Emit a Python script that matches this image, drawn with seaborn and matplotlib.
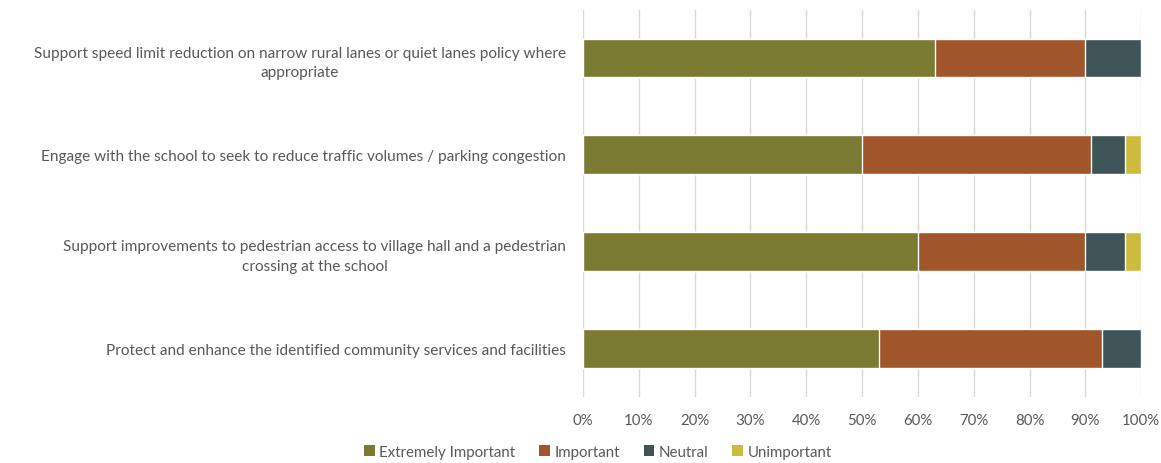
import matplotlib
matplotlib.use("Agg")
import matplotlib.pyplot as plt
import seaborn as sns
import pandas as pd
import numpy as np
from matplotlib.patches import Patch

categories = [
    "Support speed limit reduction on narrow rural lanes or quiet lanes policy where\nappropriate",
    "Engage with the school to seek to reduce traffic volumes / parking congestion",
    "Support improvements to pedestrian access to village hall and a pedestrian\ncrossing at the school",
    "Protect and enhance the identified community services and facilities",
]
series = ["Extremely Important", "Important", "Neutral", "Unimportant"]
extremely_important = [63, 50, 60, 53]
important = [27, 41, 30, 40]
neutral = [10, 6, 7, 7]
unimportant = [0, 3, 3, 0]
colors = ["#7a7a33", "#a0552a", "#3e5456", "#cdbb3f"]
xticks = [0, 10, 20, 30, 40, 50, 60, 70, 80, 90, 100]
xtick_labels = [f"{v}%" for v in xticks]

sns.set_theme(style="white")
plt.rcParams["font.family"] = ["Lato", "DejaVu Sans"]
text_color = "#595959"

df = pd.DataFrame({
    "category": categories,
    "Extremely Important": extremely_important,
    "Important": important,
    "Neutral": neutral,
    "Unimportant": unimportant,
})
cum = df[series].cumsum(axis=1)

fig = plt.figure(figsize=(11.61, 4.64), dpi=100)
ax = fig.add_axes([0.502, 0.143, 0.481, 0.834])

for s, c in reversed(list(zip(series, colors))):
    sns.barplot(x=cum[s], y=df["category"], color=c, orient="h",
                width=0.4, ax=ax, saturation=1, zorder=2)

ax.set_xlim(0, 100)
ax.set_xticks(xticks)
ax.set_xticklabels(xtick_labels, color=text_color, fontsize=10.8)
ax.set_ylabel("")
ax.set_xlabel("")
ax.tick_params(axis="y", length=0, pad=12, labelsize=11.1, labelcolor=text_color)
ax.tick_params(axis="x", length=0, pad=12)
for lbl in ax.get_yticklabels():
    lbl.set_multialignment("center")
    lbl.set_linespacing(1.5)
ax.grid(axis="x", color="#d9d9d9", linewidth=1, zorder=0)
ax.set_axisbelow(True)
for sp in ax.spines.values():
    sp.set_visible(False)

handles = [Patch(facecolor=c, edgecolor="none") for c in colors]
fig.legend(handles, series, loc="center", bbox_to_anchor=(0.515, 0.024),
           ncol=4, frameon=False, fontsize=10.8, labelcolor=text_color,
           handlelength=0.7, handleheight=0.7, handletextpad=0.3, columnspacing=1.6)

fig.savefig("out.png", dpi=100, facecolor="white")
